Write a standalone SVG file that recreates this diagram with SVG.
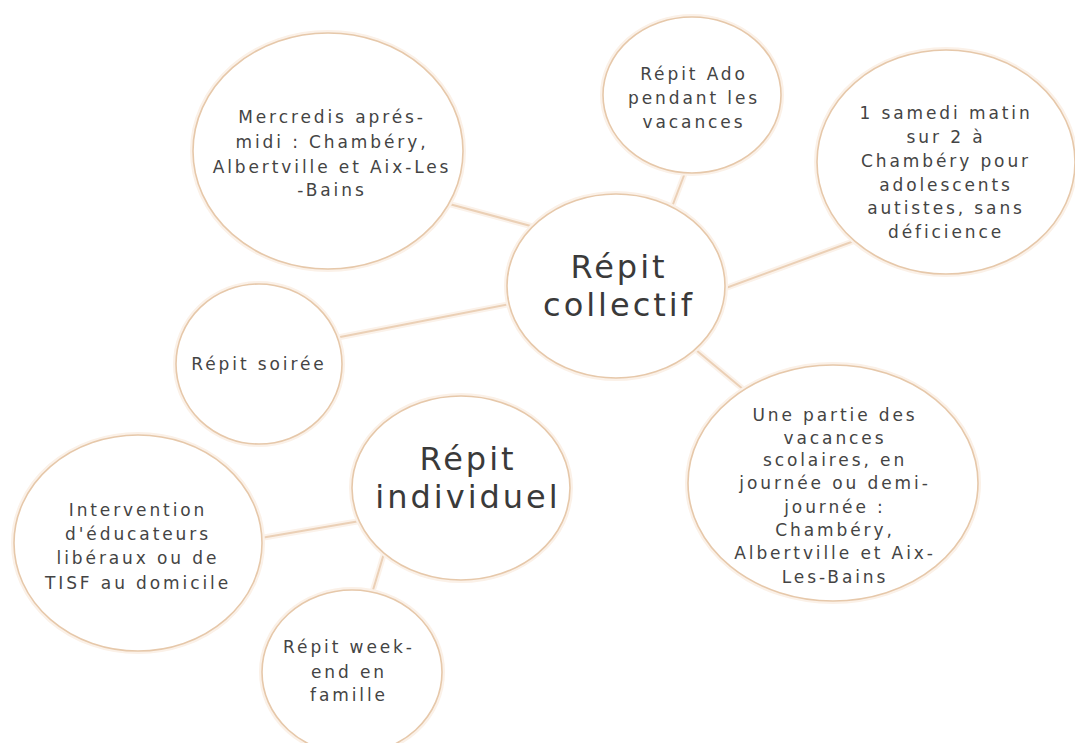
<svg xmlns="http://www.w3.org/2000/svg" width="1075" height="743" viewBox="0 0 1075 743">
<style>
.bg{fill:#ffffff}
.glow{fill:none;stroke:#fbf1e8;stroke-width:6}
.node{fill:#ffffff;stroke:#e6c8aa;stroke-width:1.6}
.edge{stroke:#ebd0b6;stroke-width:2;fill:none}
.edgeglow{stroke:#fbf2ea;stroke-width:6;fill:none}
text{font-family:"DejaVu Sans","Liberation Sans",sans-serif;fill:#444444;text-anchor:middle}
.s{font-size:17px;letter-spacing:2.9px}
.b{font-size:32px;letter-spacing:3px;fill:#3a3a3a}
</style>
<rect class="bg" x="0" y="0" width="1075" height="743"/>
<g id="connectors">
<line class="edgeglow" x1="440" y1="201.5" x2="540" y2="228.5"/>
<line class="edgeglow" x1="688" y1="165" x2="670" y2="212"/>
<line class="edgeglow" x1="715" y1="292" x2="865" y2="237"/>
<line class="edgeglow" x1="330" y1="339" x2="515" y2="303"/>
<line class="edgeglow" x1="690" y1="345" x2="750" y2="395"/>
<line class="edgeglow" x1="360" y1="521" x2="255" y2="539"/>
<line class="edgeglow" x1="385" y1="550" x2="370" y2="600"/>
<line class="edge" x1="440" y1="201.5" x2="540" y2="228.5"/>
<line class="edge" x1="688" y1="165" x2="670" y2="212"/>
<line class="edge" x1="715" y1="292" x2="865" y2="237"/>
<line class="edge" x1="330" y1="339" x2="515" y2="303"/>
<line class="edge" x1="690" y1="345" x2="750" y2="395"/>
<line class="edge" x1="360" y1="521" x2="255" y2="539"/>
<line class="edge" x1="385" y1="550" x2="370" y2="600"/>
</g>
<g id="mercredis">
<ellipse class="glow" cx="328" cy="151" rx="135" ry="118"/>
<ellipse class="node" cx="328" cy="151" rx="135" ry="118"/>
<text class="s" x="332" y="123">Mercredis aprés-</text>
<text class="s" x="332" y="148">midi : Chambéry,</text>
<text class="s" x="332" y="173">Albertville et Aix-Les</text>
<text class="s" x="332" y="196">-Bains</text>
</g>
<g id="ado">
<ellipse class="glow" cx="692" cy="95" rx="89" ry="78"/>
<ellipse class="node" cx="692" cy="95" rx="89" ry="78"/>
<text class="s" x="694" y="80">Répit Ado</text>
<text class="s" x="694" y="104">pendant les</text>
<text class="s" x="694" y="128">vacances</text>
</g>
<g id="samedi">
<ellipse class="glow" cx="946" cy="162" rx="129" ry="112"/>
<ellipse class="node" cx="946" cy="162" rx="129" ry="112"/>
<text class="s" x="946" y="119">1 samedi matin</text>
<text class="s" x="946" y="143">sur 2 à</text>
<text class="s" x="946" y="167">Chambéry pour</text>
<text class="s" x="946" y="191">adolescents</text>
<text class="s" x="946" y="214">autistes, sans</text>
<text class="s" x="946" y="238">déficience</text>
</g>
<g id="collectif">
<ellipse class="glow" cx="616" cy="286" rx="109" ry="92"/>
<ellipse class="node" cx="616" cy="286" rx="109" ry="92"/>
<text class="b" x="619" y="278">Répit</text>
<text class="b" x="619" y="316">collectif</text>
</g>
<g id="soiree">
<ellipse class="glow" cx="259" cy="364" rx="83" ry="80"/>
<ellipse class="node" cx="259" cy="364" rx="83" ry="80"/>
<text class="s" x="259" y="370">Répit soirée</text>
</g>
<g id="partie">
<ellipse class="glow" cx="833" cy="483" rx="145" ry="118"/>
<ellipse class="node" cx="833" cy="483" rx="145" ry="118"/>
<text class="s" x="835" y="421">Une partie des</text>
<text class="s" x="835" y="444">vacances</text>
<text class="s" x="835" y="466">scolaires, en</text>
<text class="s" x="835" y="489">journée ou demi-</text>
<text class="s" x="835" y="513">journée :</text>
<text class="s" x="835" y="536">Chambéry,</text>
<text class="s" x="835" y="559">Albertville et Aix-</text>
<text class="s" x="835" y="583">Les-Bains</text>
</g>
<g id="individuel">
<ellipse class="glow" cx="461" cy="488" rx="109" ry="92"/>
<ellipse class="node" cx="461" cy="488" rx="109" ry="92"/>
<text class="b" x="468" y="470">Répit</text>
<text class="b" x="468" y="508">individuel</text>
</g>
<g id="intervention">
<ellipse class="glow" cx="138" cy="543" rx="124" ry="108"/>
<ellipse class="node" cx="138" cy="543" rx="124" ry="108"/>
<text class="s" x="138" y="516">Intervention</text>
<text class="s" x="138" y="540">d'éducateurs</text>
<text class="s" x="138" y="564">libéraux ou de</text>
<text class="s" x="138" y="589">TISF au domicile</text>
</g>
<g id="weekend">
<ellipse class="glow" cx="352" cy="672" rx="90" ry="82"/>
<ellipse class="node" cx="352" cy="672" rx="90" ry="82"/>
<text class="s" x="349" y="653">Répit week-</text>
<text class="s" x="349" y="678">end en</text>
<text class="s" x="349" y="701">famille</text>
</g>
</svg>
